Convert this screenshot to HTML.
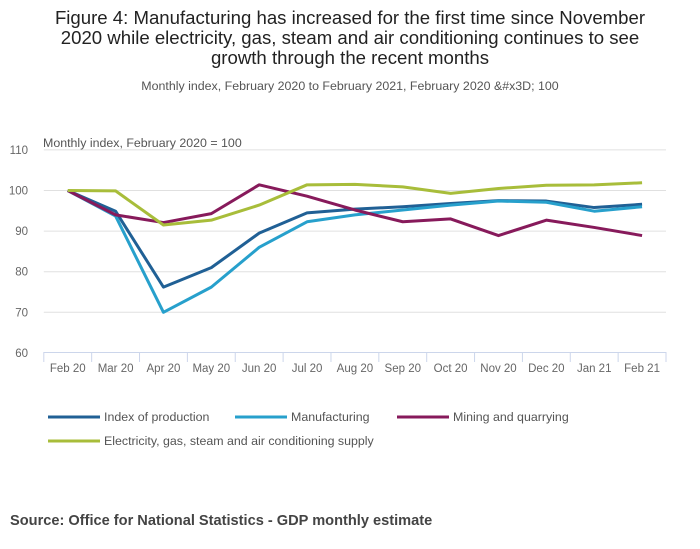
<!DOCTYPE html>
<html><head><meta charset="utf-8"><style>
body{margin:0;background:#fff;font-family:"Liberation Sans",sans-serif;}
#wrap{position:relative;width:700px;height:549px;overflow:hidden;}
.title{position:absolute;left:0;top:8px;width:700px;text-align:center;font-size:18.6px;line-height:20px;color:#222;}
.sub{position:absolute;left:0;top:79px;width:700px;text-align:center;font-size:12.4px;color:#555;}
.src{position:absolute;left:10px;top:513px;font-size:14.6px;font-weight:bold;color:#444;}
</style></head><body>
<div id="wrap">
<div class="title">Figure 4: Manufacturing has increased for the first time since November<br>2020 while electricity, gas, steam and air conditioning continues to see<br>growth through the recent months</div>
<div class="sub">Monthly index, February 2020 to February 2021, February 2020 &amp;#x3D; 100</div>
<svg id="chart" width="700" height="549" style="position:absolute;left:0;top:0"></svg>
<div class="src">Source: Office for National Statistics - GDP monthly estimate</div>
</div>
<script>
const categories=["Feb 20","Mar 20","Apr 20","May 20","Jun 20","Jul 20","Aug 20","Sep 20","Oct 20","Nov 20","Dec 20","Jan 21","Feb 21"];
const yTicks=[60,70,80,90,100,110];
const production=[100,94.9,76.2,81.0,89.5,94.5,95.4,96.0,96.8,97.5,97.4,95.8,96.6];
const manufacturing=[100,93.7,70.0,76.2,86.0,92.3,94.0,95.2,96.4,97.4,97.1,94.9,96.0];
const mining=[100,94.0,92.1,94.3,101.4,98.6,95.2,92.3,93.0,88.9,92.7,90.9,88.9];
const electricity=[100,99.9,91.5,92.7,96.4,101.4,101.5,100.9,99.3,100.5,101.3,101.4,101.9];
const seriesNames=["Index of production","Manufacturing","Mining and quarrying","Electricity, gas, steam and air conditioning supply"];
const seriesColors=["#206095","#27a0cc","#871a5b","#a8bd3a"];
const NS="http://www.w3.org/2000/svg";
const svg=document.getElementById('chart');
const x0=43.8,x1=666,band=(x1-x0)/categories.length;
const xs=i=>x0+band*(i+0.5);
const ys=v=>190.5-(v-100)*4.06;
function mk(t,a,p){const e=document.createElementNS(NS,t);for(const k in a)e.setAttribute(k,a[k]);(p||svg).appendChild(e);return e;}
yTicks.forEach(v=>{
  if(v>60){const l=mk('line',{x1:x0,x2:x1,y1:ys(v),y2:ys(v),stroke:'#e0e0e0','stroke-width':1});
  
  }
  const t=mk('text',{x:28,y:ys(v)+4,'font-size':11.5,fill:'#666','font-family':'Liberation Sans, sans-serif','text-anchor':'end'});
  t.textContent=v;
  
  
});
const yt=mk('text',{x:43,y:147,'font-size':12.4,fill:'#555','font-family':'Liberation Sans, sans-serif'});
yt.textContent='Monthly index, February 2020 = 100';


const ax=mk('line',{x1:x0,x2:x1,y1:352.5,y2:352.5,stroke:'#ccd6eb','stroke-width':1});


for(let i=0;i<=categories.length;i++){
  const tk=mk('line',{x1:x0+band*i,x2:x0+band*i,y1:352,y2:362,stroke:'#ccd6eb','stroke-width':1});
  
  
}
categories.forEach((c,i)=>{
  const t=mk('text',{x:xs(i),y:372,'font-size':11.5,fill:'#666','font-family':'Liberation Sans, sans-serif','text-anchor':'middle'});
  t.textContent=c;
  
  
});
[production,manufacturing,mining,electricity].forEach((s,k)=>{
  const p=mk('polyline',{points:s.map((v,i)=>xs(i)+','+ys(v)).join(' '),fill:'none',stroke:seriesColors[k],'stroke-width':3,'stroke-linejoin':'round'});
  
  
});
const lpos=[[48,421],[235,421],[397,421],[48,445]];
seriesNames.forEach((n,k)=>{
  const g=mk('g',{});
  
  
  mk('line',{x1:lpos[k][0],x2:lpos[k][0]+52,y1:lpos[k][1]-4,y2:lpos[k][1]-4,stroke:seriesColors[k],'stroke-width':3},g);
  const t=mk('text',{x:lpos[k][0]+56,y:lpos[k][1],'font-size':12.4,fill:'#555','font-family':'Liberation Sans, sans-serif'},g);
  t.textContent=n;
});
</script>
</body></html>
